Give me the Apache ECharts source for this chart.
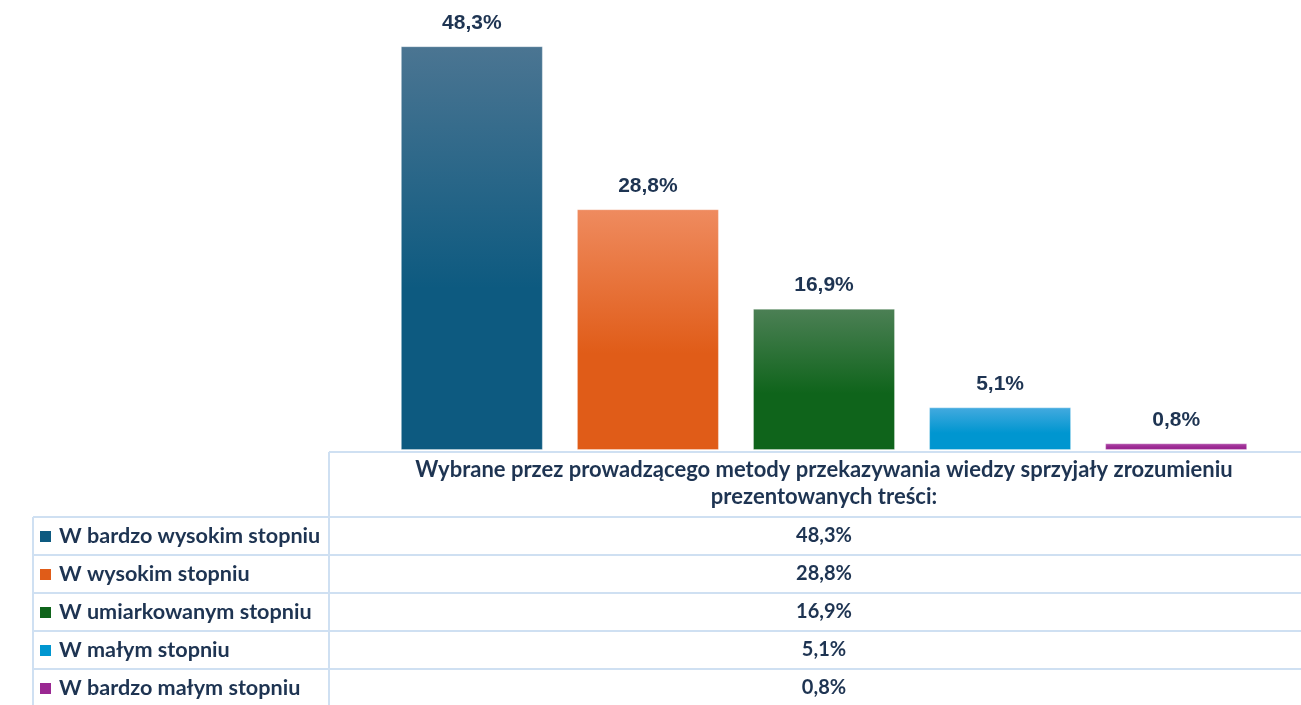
<!DOCTYPE html>
<html>
<head>
<meta charset="utf-8">
<script src="https://cdn.jsdelivr.net/npm/echarts@6/dist/echarts.min.js"></script>
<style>
  html, body { margin: 0; padding: 0; background: #fff; }
  #main { width: 1301px; height: 705px; }
</style>
</head>
<body>
<div id="main"></div>
<script>
// dane
const question = 'Wybrane przez prowadzącego metody przekazywania wiedzy sprzyjały zrozumieniu\nprezentowanych treści:';
const answers = ['W bardzo wysokim stopniu', 'W wysokim stopniu', 'W umiarkowanym stopniu', 'W małym stopniu', 'W bardzo małym stopniu'];
const percents = [48.3, 28.8, 16.9, 5.1, 0.8];

// kolory: [góra, dół]
const colors = [
  ['#4b7592', '#0d5a80'],
  ['#ef8b5f', '#e05c18'],
  ['#4c8055', '#0f641b'],
  ['#44aadf', '#0096d0'],
  ['#b04aa8', '#9a2892']
];
const textColor = '#1e3452';
const lineColor = '#cfe0f2';

const fmt = v => v.toFixed(1).replace('.', ',') + '%';

const chart = echarts.init(document.getElementById('main'));

const series = answers.map((name, i) => ({
  name: name,
  type: 'bar',
  data: [percents[i]],
  barWidth: 142,
  barGap: '24%',
  itemStyle: {
    color: new echarts.graphic.LinearGradient(0, 0, 0, 1, [
      { offset: 0, color: colors[i][0] },
      { offset: 0.6, color: colors[i][1] },
      { offset: 1, color: colors[i][1] }
    ]),
    borderColor: 'rgba(255,255,255,0.3)',
    borderWidth: 1
  },
  label: {
    show: true,
    position: 'top',
    distance: 13,
    formatter: p => fmt(p.value),
    fontFamily: 'Liberation Sans',
    fontWeight: 'bold',
    fontSize: 21,
    color: textColor
  }
}));

// tabela danych pod wykresem
const tblLeft = 33, colX = 329, tblRight = 1301;
const headTop = 452, rowTops = [517, 555, 593, 631, 669], rowH = 38;
const graphic = [];
const line = (x1, y1, x2, y2) => graphic.push({
  type: 'line', silent: true,
  shape: { x1, y1, x2, y2 },
  style: { stroke: lineColor, lineWidth: 2 }
});
line(colX, headTop, tblRight, headTop);
line(colX, headTop, colX, 705);
line(tblLeft, rowTops[0], tblLeft, 705);
rowTops.forEach(y => line(tblLeft, y, tblRight, y));

const headFont = 'bold 22px Lato';
const labelFont = 'bold 21.6px Lato';
const valueFont = 'bold 20px Lato';
question.split('\n').forEach((t, k) => graphic.push({
  type: 'text', silent: true,
  style: { text: t, x: 824, y: 470 + k * 27, textAlign: 'center', textVerticalAlign: 'middle', font: headFont, fill: textColor }
}));
answers.forEach((name, i) => {
  const cy = rowTops[i] + rowH / 2;
  graphic.push({
    type: 'rect', silent: true,
    shape: { x: 40, y: cy - 5, width: 11, height: 11 },
    style: { fill: colors[i][1] }
  });
  graphic.push({
    type: 'text', silent: true,
    style: { text: name, x: 59, y: cy, textVerticalAlign: 'middle', font: labelFont, fill: textColor }
  });
  graphic.push({
    type: 'text', silent: true,
    style: { text: fmt(percents[i]), x: 824, y: cy, textAlign: 'center', textVerticalAlign: 'middle', font: valueFont, fill: textColor }
  });
});

chart.setOption({
  animation: false,
  grid: { left: 347, top: 32, width: 954, height: 418 },
  xAxis: {
    type: 'category',
    data: ['metody'],
    show: false
  },
  yAxis: {
    type: 'value',
    min: 0,
    max: 50,
    show: false
  },
  series: series,
  graphic: graphic
});
</script>
</body>
</html>
